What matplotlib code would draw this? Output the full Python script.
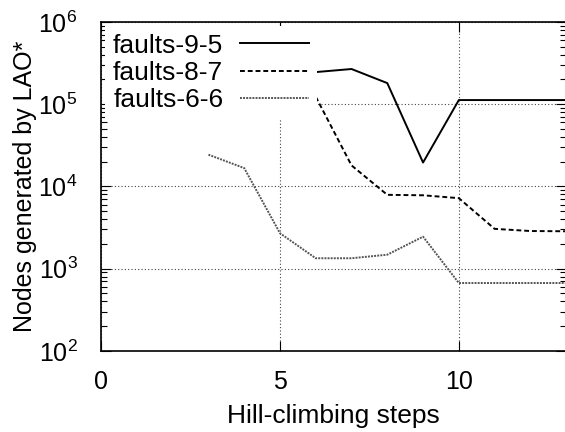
import matplotlib
matplotlib.use("Agg")
import matplotlib.pyplot as plt
from matplotlib.ticker import LogLocator, NullFormatter

plt.rcParams["font.family"] = ["Liberation Sans", "DejaVu Sans"]
plt.rcParams["mathtext.fontset"] = "custom"
plt.rcParams["mathtext.rm"] = "Liberation Sans"
plt.rcParams["mathtext.it"] = "Liberation Sans:italic"

# data
steps_95 = [6, 7, 8, 9, 10, 11, 12, 13]
nodes_95 = [2.45e5, 2.67e5, 1.8e5, 1.95e4, 1.12e5, 1.12e5, 1.12e5, 1.12e5]

steps_87 = [6, 7, 8, 9, 10, 11, 12, 13]
nodes_87 = [1.23e5, 1.8e4, 7.9e3, 7.8e3, 7.2e3, 3.05e3, 2.87e3, 2.85e3]

steps_66 = [3, 4, 5, 6, 7, 8, 9, 10, 11, 12, 13]
nodes_66 = [2.43e4, 1.67e4, 2.7e3, 1.34e3, 1.34e3, 1.48e3, 2.45e3, 6.7e2, 6.7e2, 6.7e2, 6.7e2]

x_ticks = [0, 5, 10]


def main():
    fig = plt.figure(figsize=(5.65, 4.32), dpi=100)
    ax = fig.add_axes([0.179, 0.1875, 0.823, 0.762])

    ax.plot(steps_95, nodes_95, color="black", lw=1.4, label="faults-9-5")
    ax.plot(steps_87, nodes_87, color="black", lw=1.4, linestyle=(0, (2.5, 1.5)),
            label="faults-8-7")
    ax.plot(steps_66, nodes_66, color="#555555", lw=1.4, linestyle=(0, (1, 0.6)),
            label="faults-6-6")

    ax.set_yscale("log")
    ax.set_xlim(0, 13)
    ax.set_ylim(1e2, 1e6)
    ax.set_xticks(x_ticks)
    ax.yaxis.set_major_locator(LogLocator(base=10, numticks=10))
    ax.yaxis.set_minor_locator(LogLocator(base=10, subs=range(2, 10), numticks=10))
    ax.yaxis.set_minor_formatter(NullFormatter())

    ax.tick_params(which="both", direction="in", top=True, right=True,
                   labelsize=18, width=0.8)
    ax.tick_params(which="major", length=7)
    ax.tick_params(axis="y", which="major", pad=17)
    ax.tick_params(axis="x", which="major", pad=14)
    ax.tick_params(which="minor", length=4)

    ax.grid(True, which="major", linestyle=(0, (1, 2)), color="#444444", lw=0.8)
    for s in ax.spines.values():
        s.set_linewidth(1.2)

    ax.set_xlabel("Hill-climbing steps", fontsize=19, labelpad=7)
    ax.set_ylabel("Nodes generated by LAO*", fontsize=18, labelpad=1)

    leg = ax.legend(loc="upper left", markerfirst=False, fontsize=19,
                    handlelength=2.6, handletextpad=0.65, labelspacing=0.12,
                    borderaxespad=0.15, borderpad=0.3, frameon=True, fancybox=False,
                    facecolor="white", edgecolor="none", framealpha=1.0)
    leg.set_zorder(5)

    fig.savefig("out.png", dpi=100)


if __name__ == "__main__":
    main()
